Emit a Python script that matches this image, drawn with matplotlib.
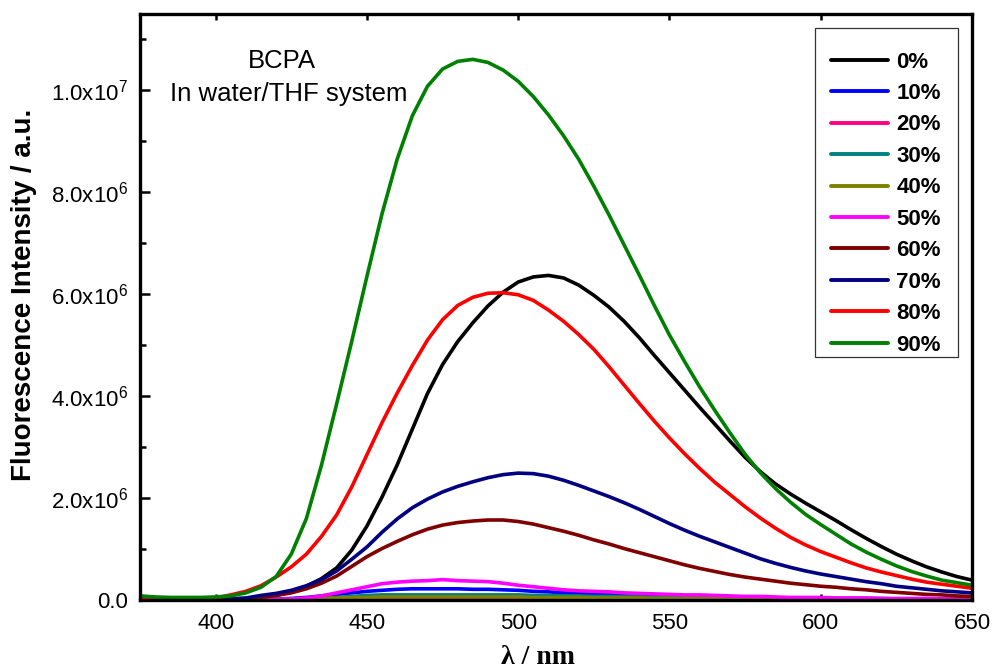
import numpy as np
import matplotlib
matplotlib.use("Agg")
import matplotlib.pyplot as plt
from matplotlib.ticker import MultipleLocator
from matplotlib.patches import Rectangle

plt.rcParams['font.family'] = ['Liberation Sans', 'DejaVu Sans']
plt.rcParams['mathtext.fontset'] = 'custom'
plt.rcParams['mathtext.rm'] = 'Liberation Sans'

# wavelength grid (nm), 375..650 step 5
wavelength = list(range(375, 655, 5))

# intensities in units of 1e6 a.u.
i_0 = [0.02, 0.02, 0.02, 0.02, 0.02, 0.02, 0.02, 0.03, 0.05, 0.09, 0.16, 0.27, 0.42, 0.63, 0.98, 1.45,
       2.02, 2.65, 3.35, 4.05, 4.62, 5.07, 5.44, 5.77, 6.04, 6.24, 6.34, 6.37, 6.32, 6.18, 5.98, 5.75,
       5.47, 5.15, 4.8, 4.46, 4.12, 3.78, 3.45, 3.12, 2.8, 2.52, 2.28, 2.08, 1.9, 1.73, 1.56, 1.38,
       1.21, 1.05, 0.9, 0.77, 0.65, 0.55, 0.46, 0.39]
i_10 = [0.01, 0.01, 0.01, 0.01, 0.01, 0.01, 0.01, 0.01, 0.01, 0.02, 0.03, 0.05, 0.08, 0.11, 0.14, 0.17,
        0.19, 0.21, 0.22, 0.22, 0.22, 0.22, 0.21, 0.21, 0.2, 0.19, 0.17, 0.16, 0.14, 0.13, 0.12, 0.11,
        0.1, 0.09, 0.08, 0.07, 0.07, 0.06, 0.06, 0.05, 0.05, 0.04, 0.04, 0.04, 0.03, 0.03, 0.03, 0.03,
        0.03, 0.03, 0.02, 0.02, 0.02, 0.02, 0.02, 0.02]
i_20 = [0.01, 0.01, 0.01, 0.01, 0.01, 0.01, 0.01, 0.01, 0.01, 0.01, 0.01, 0.01, 0.02, 0.02, 0.03, 0.03,
        0.03, 0.03, 0.03, 0.03, 0.03, 0.03, 0.03, 0.03, 0.03, 0.03, 0.03, 0.03, 0.03, 0.03, 0.02, 0.02,
        0.02, 0.02, 0.02, 0.02, 0.02, 0.02, 0.02, 0.02, 0.01, 0.01, 0.01, 0.01, 0.01, 0.01, 0.01, 0.01,
        0.01, 0.01, 0.01, 0.01, 0.01, 0.01, 0.01, 0.01]
i_30 = [0.01, 0.01, 0.01, 0.01, 0.01, 0.01, 0.01, 0.01, 0.01, 0.01, 0.01, 0.02, 0.03, 0.05, 0.07, 0.09,
        0.1, 0.1, 0.1, 0.1, 0.1, 0.1, 0.1, 0.1, 0.1, 0.1, 0.09, 0.09, 0.08, 0.08, 0.07, 0.07,
        0.06, 0.06, 0.05, 0.05, 0.05, 0.04, 0.04, 0.04, 0.03, 0.03, 0.03, 0.03, 0.03, 0.02, 0.02, 0.02,
        0.02, 0.02, 0.02, 0.02, 0.02, 0.02, 0.02, 0.02]
i_40 = [0.01, 0.01, 0.01, 0.01, 0.01, 0.01, 0.01, 0.01, 0.01, 0.01, 0.01, 0.02, 0.03, 0.04, 0.05, 0.05,
        0.06, 0.06, 0.06, 0.06, 0.06, 0.06, 0.06, 0.06, 0.06, 0.06, 0.05, 0.05, 0.05, 0.05, 0.04, 0.04,
        0.04, 0.04, 0.03, 0.03, 0.03, 0.03, 0.03, 0.02, 0.02, 0.02, 0.02, 0.02, 0.02, 0.02, 0.02, 0.02,
        0.01, 0.01, 0.01, 0.01, 0.01, 0.01, 0.01, 0.01]
i_50 = [0.01, 0.01, 0.01, 0.01, 0.01, 0.01, 0.01, 0.01, 0.01, 0.01, 0.02, 0.04, 0.08, 0.14, 0.2, 0.26,
        0.32, 0.35, 0.37, 0.38, 0.4, 0.38, 0.37, 0.36, 0.33, 0.29, 0.26, 0.23, 0.2, 0.18, 0.17, 0.16,
        0.14, 0.13, 0.12, 0.11, 0.1, 0.1, 0.09, 0.08, 0.07, 0.07, 0.06, 0.05, 0.05, 0.05, 0.04, 0.04,
        0.04, 0.03, 0.03, 0.03, 0.03, 0.02, 0.02, 0.02]
i_60 = [0.01, 0.01, 0.01, 0.01, 0.01, 0.01, 0.01, 0.02, 0.05, 0.09, 0.14, 0.22, 0.33, 0.47, 0.66, 0.85,
        1.01, 1.15, 1.28, 1.39, 1.47, 1.52, 1.55, 1.57, 1.57, 1.54, 1.49, 1.42, 1.35, 1.27, 1.18, 1.1,
        1.01, 0.93, 0.85, 0.77, 0.69, 0.62, 0.56, 0.5, 0.45, 0.41, 0.37, 0.33, 0.3, 0.27, 0.25, 0.22,
        0.2, 0.17, 0.15, 0.13, 0.11, 0.1, 0.08, 0.07]
i_70 = [0.01, 0.01, 0.01, 0.01, 0.01, 0.01, 0.02, 0.04, 0.09, 0.13, 0.19, 0.28, 0.4, 0.57, 0.8, 1.04,
        1.33, 1.59, 1.81, 1.98, 2.12, 2.23, 2.32, 2.4, 2.46, 2.49, 2.48, 2.43, 2.35, 2.25, 2.14, 2.03,
        1.91, 1.78, 1.64, 1.5, 1.37, 1.25, 1.14, 1.03, 0.92, 0.81, 0.72, 0.64, 0.57, 0.51, 0.46, 0.41,
        0.36, 0.32, 0.27, 0.24, 0.21, 0.18, 0.16, 0.14]
i_80 = [0.02, 0.02, 0.02, 0.02, 0.02, 0.04, 0.1, 0.17, 0.28, 0.45, 0.65, 0.9, 1.25, 1.67, 2.22, 2.85,
        3.48, 4.06, 4.6, 5.1, 5.5, 5.78, 5.94, 6.02, 6.03, 5.99, 5.88, 5.69, 5.47, 5.21, 4.92, 4.58,
        4.22, 3.86, 3.51, 3.18, 2.87, 2.58, 2.31, 2.07, 1.83, 1.61, 1.41, 1.23, 1.08, 0.95, 0.84, 0.73,
        0.63, 0.55, 0.48, 0.41, 0.35, 0.31, 0.27, 0.23]
i_90 = [0.08, 0.06, 0.05, 0.05, 0.05, 0.06, 0.08, 0.14, 0.25, 0.46, 0.9, 1.6, 2.65, 3.85, 5.08, 6.35,
        7.58, 8.65, 9.5, 10.08, 10.42, 10.57, 10.61, 10.55, 10.4, 10.18, 9.88, 9.52, 9.11, 8.65, 8.12, 7.56,
        6.97, 6.38, 5.78, 5.2, 4.68, 4.18, 3.72, 3.28, 2.86, 2.5, 2.19, 1.92, 1.68, 1.48, 1.29, 1.1,
        0.94, 0.8, 0.67, 0.56, 0.47, 0.39, 0.34, 0.29]

labels = ['0%', '10%', '20%', '30%', '40%', '50%', '60%', '70%', '80%', '90%']
series = [i_0, i_10, i_20, i_30, i_40, i_50, i_60, i_70, i_80, i_90]
colors = ['#000000', '#0000FF', '#FF0080', '#008080', '#808000', '#FF00FF',
          '#800000', '#000080', '#FF0000', '#008000']

y_ticks = [0, 2e6, 4e6, 6e6, 8e6, 1e7]
y_ticklabels = ['0.0', r'$\mathregular{2.0x10^{6}}$', r'$\mathregular{4.0x10^{6}}$',
                r'$\mathregular{6.0x10^{6}}$', r'$\mathregular{8.0x10^{6}}$',
                r'$\mathregular{1.0x10^{7}}$']
x_ticks = [400, 450, 500, 550, 600, 650]

fig = plt.figure(figsize=(9.94, 6.72), dpi=100)
ax = fig.add_axes([140/994, 1-600/672, 832/994, 586/672])

wl = np.array(wavelength)
for lab, s, c in zip(labels, series, colors):
    ax.plot(wl, np.array(s) * 1e6, color=c, lw=2.6, label=lab,
            solid_joinstyle='round', solid_capstyle='round')

ax.set_xlim(375, 650)
ax.set_ylim(0, 1.15e7)

ax.set_xticks(x_ticks)
ax.set_xticklabels([str(v) for v in x_ticks])
ax.xaxis.set_minor_locator(MultipleLocator(25))
ax.set_yticks(y_ticks)
ax.set_yticklabels(y_ticklabels)
ax.yaxis.set_minor_locator(MultipleLocator(1e6))

ax.tick_params(axis='y', which='major', direction='in', length=7.5, width=1.8,
               labelsize=16, pad=9, right=False)
ax.tick_params(axis='y', which='minor', direction='in', length=4, width=1.8, right=False)
ax.tick_params(axis='x', which='major', direction='in', length=4.5, width=1.8,
               labelsize=16, pad=9.5, top=True)
ax.tick_params(axis='x', which='minor', direction='in', length=2.5, width=1.5, top=False)

for sp in ax.spines.values():
    sp.set_linewidth(2.4)

ax.set_ylabel('Fluorescence Intensity / a.u.', fontsize=20, fontweight='bold',
              va='center', ha='center')
ax.yaxis.set_label_coords((24-140)/832, (600-294.5)/586)
ax.set_xlabel('λ / nm', fontsize=20, fontweight='bold',
              family=['Liberation Serif', 'DejaVu Serif'], va='center', ha='center')
ax.xaxis.set_label_coords((538-140)/832, (600-658)/586)

ax.text((281.7-140)/832, (600-68.3)/586, 'BCPA', transform=ax.transAxes,
        fontsize=18.5, ha='center', va='baseline')
ax.text((289-140)/832, (600-101)/586, 'In water/THF system', transform=ax.transAxes,
        fontsize=18.5, ha='center', va='baseline')

leg = ax.legend(loc='upper left', bbox_to_anchor=((830.7-140)/832, (600-51.5)/586),
                frameon=False, borderpad=0, borderaxespad=0,
                handlelength=2.6, handletextpad=0.35, labelspacing=0.47,
                prop={'size': 16, 'weight': 'bold'})
for h in leg.get_lines():
    h.set_linewidth(2.8)

ax.add_patch(Rectangle(((815-140)/832, (600-356.7)/586),
                       (958.3-815)/832, (356.7-27.7)/586,
                       transform=ax.transAxes, fill=False, edgecolor='#333333',
                       lw=0.9, zorder=5))

fig.savefig('out.png', dpi=100)
